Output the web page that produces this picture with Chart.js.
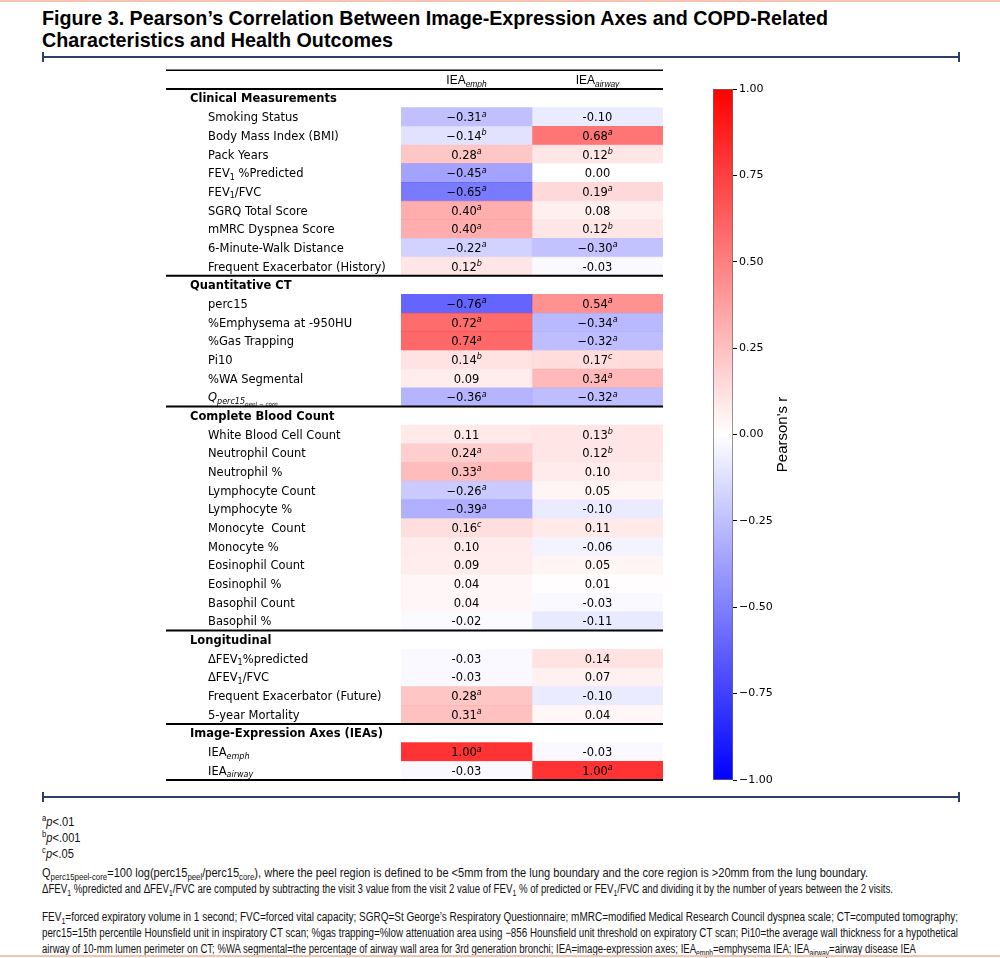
<!DOCTYPE html>
<html>
<head>
<meta charset="utf-8">
<title>Figure 3</title>
<script src="https://cdn.jsdelivr.net/npm/chart.js@4.4.0/dist/chart.umd.min.js"></script>
<style>
  body { margin: 0; background: #fff; }
  #page { position: relative; width: 1000px; height: 958px; overflow: hidden; font-family: 'Liberation Sans', Arial, sans-serif; color: #111; }
  .band { position: absolute; left: 0; width: 1000px; height: 2px; background: #f7c3ae; }
  .rule { position: absolute; left: 42px; width: 918px; height: 2px; background: #2b3f69; }
  .rule::before, .rule::after { content: ''; position: absolute; top: -4px; width: 2px; height: 10px; background: #2b3f69; }
  .rule::before { left: 0; }
  .rule::after { right: 0; }
  .fit { position: absolute; left: 42px; white-space: nowrap; transform-origin: 0 50%; line-height: 16px; }
  .ttl { font-weight: bold; font-size: 21px; line-height: 22px; color: #000; }
  .note { font-size: 12px; }
  .note sub, .note sup { font-size: 8.5px; line-height: 0; }
  .box { position: absolute; top: 60px; height: 730px; }
</style>
</head>
<body>
<div id="page">
  <div class="band" style="top:0"></div>
  <div class="fit ttl" style="top:7px" data-w="786">Figure 3. Pearson’s Correlation Between Image-Expression Axes and COPD-Related</div>
  <div class="fit ttl" style="top:29px" data-w="351">Characteristics and Health Outcomes</div>
  <div class="rule" style="top:56px"></div>

  <div class="box" style="left:0; width:700px"><canvas id="heat"></canvas></div>
  <div class="box" style="left:700px; width:300px"><canvas id="cbar"></canvas></div>

  <div class="rule" style="top:796px"></div>
  <div class="fit note short" style="top:814px"><sup>a</sup><i>p</i>&lt;.01</div>
  <div class="fit note short" style="top:830px"><sup>b</sup><i>p</i>&lt;.001</div>
  <div class="fit note short" style="top:846px"><sup>c</sup><i>p</i>&lt;.05</div>
  <div class="fit note" id="qline" style="top:865px" data-w="826">Q<sub>perc15peel-core</sub>=100 log(perc15<sub>peel</sub>/perc15<sub>core</sub>), where the peel region is defined to be &lt;5mm from the lung boundary and the core region is &gt;20mm from the lung boundary.</div>
  <div class="fit note" style="top:881px" data-w="851">ΔFEV<sub>1</sub> %predicted and ΔFEV<sub>1</sub>/FVC are computed by subtracting the visit 3 value from the visit 2 value of FEV<sub>1</sub> % of predicted or FEV<sub>1</sub>/FVC and dividing it by the number of years between the 2 visits.</div>
  <div class="fit note" style="top:909px" data-w="916">FEV<sub>1</sub>=forced expiratory volume in 1 second; FVC=forced vital capacity; SGRQ=St George’s Respiratory Questionnaire; mMRC=modified Medical Research Council dyspnea scale; CT=computed tomography;</div>
  <div class="fit note" style="top:925px" data-w="916">perc15=15th percentile Hounsfield unit in inspiratory CT scan; %gas trapping=%low attenuation area using −856 Hounsfield unit threshold on expiratory CT scan; Pi10=the average wall thickness for a hypothetical</div>
  <div class="fit note" style="top:941px" data-w="874">airway of 10-mm lumen perimeter on CT; %WA segmental=the percentage of airway wall area for 3rd generation bronchi; IEA=image-expression axes; IEA<sub>emph</sub>=emphysema IEA; IEA<sub>airway</sub>=airway disease IEA</div>
  <div class="band" style="top:955px"></div>
</div>

<script>
// --- DATA ---
const sections = ['Clinical Measurements', 'Quantitative CT', 'Complete Blood Count', 'Longitudinal', 'Image-Expression Axes (IEAs)'];
const sectionSizes = [9, 6, 11, 4, 2];

// _{..} subscript, ^{..} superscript, $..$ italic
const items = [
  'Smoking Status', 'Body Mass Index (BMI)', 'Pack Years', 'FEV_{1} %Predicted', 'FEV_{1}/FVC',
  'SGRQ Total Score', 'mMRC Dyspnea Score', '6-Minute-Walk Distance', 'Frequent Exacerbator (History)',
  'perc15', '%Emphysema at -950HU', '%Gas Trapping', 'Pi10', '%WA Segmental', '$Q$_{$perc15$_{$peel − core$}}',
  'White Blood Cell Count', 'Neutrophil Count', 'Neutrophil %', 'Lymphocyte Count', 'Lymphocyte %',
  'Monocyte  Count', 'Monocyte %', 'Eosinophil Count', 'Eosinophil %', 'Basophil Count', 'Basophil %',
  'ΔFEV_{1}%predicted', 'ΔFEV_{1}/FVC', 'Frequent Exacerbator (Future)', '5-year Mortality',
  'IEA_{$emph$}', 'IEA_{$airway$}'
];

const emph = [
  -0.31, -0.14, 0.28, -0.45, -0.65, 0.40, 0.40, -0.22, 0.12,
  -0.76, 0.72, 0.74, 0.14, 0.09, -0.36,
  0.11, 0.24, 0.33, -0.26, -0.39, 0.16, 0.10, 0.09, 0.04, 0.04, -0.02,
  -0.03, -0.03, 0.28, 0.31,
  1.00, -0.03
];
const emphSig = [
  'a', 'b', 'a', 'a', 'a', 'a', 'a', 'a', 'b',
  'a', 'a', 'a', 'b', '', 'a',
  '', 'a', 'a', 'a', 'a', 'c', '', '', '', '', '',
  '', '', 'a', 'a',
  'a', ''
];
const airway = [
  -0.10, 0.68, 0.12, 0.00, 0.19, 0.08, 0.12, -0.30, -0.03,
  0.54, -0.34, -0.32, 0.17, 0.34, -0.32,
  0.13, 0.12, 0.10, 0.05, -0.10, 0.11, -0.06, 0.05, 0.01, -0.03, -0.11,
  0.14, 0.07, -0.10, 0.04,
  -0.03, 1.00
];
const airwaySig = [
  '', 'a', 'b', '', 'a', '', 'b', 'a', '',
  'a', 'a', 'a', 'c', 'a', 'a',
  'b', 'b', '', '', '', '', '', '', '', '', '',
  '', '', '', '',
  '', 'a'
];
const colLabels = ['IEA_{$emph$}', 'IEA_{$airway$}'];
const cbarTicks = [-1, -0.75, -0.5, -0.25, 0, 0.25, 0.5, 0.75, 1];

// rows of the table: section headings + items
const rows = [];
let k = 0;
sections.forEach((s, si) => {
  rows.push({ label: s, header: true });
  for (let j = 0; j < sectionSizes[si]; j++) { rows.push({ label: items[k], i: k }); k++; }
});

const FONT = "'DejaVu Sans', sans-serif";

// matplotlib 'bwr'
function bwr(v, alpha) {
  const t = Math.max(-1, Math.min(1, v));
  let r, g, b;
  if (t >= 0) { r = 255; g = b = 255 * (1 - t); } else { b = 255; r = g = 255 * (1 + t); }
  return `rgba(${Math.round(r)},${Math.round(g)},${Math.round(b)},${alpha})`;
}

function cellText(v, sig) {
  if (!sig) return v.toFixed(2);
  return (v < 0 ? '−' : '') + Math.abs(v).toFixed(2) + '^{$' + sig + '$}';
}

function parseRich(str) {
  const segs = [], stack = [];
  let it = false, buf = '';
  const flush = () => { if (buf) segs.push({ t: buf, stack: stack.slice(), it }); buf = ''; };
  for (let p = 0; p < str.length; p++) {
    const c = str[p];
    if ((c === '_' || c === '^') && str[p + 1] === '{') { flush(); stack.push(c); p++; }
    else if (c === '}') { flush(); stack.pop(); }
    else if (c === '$') { flush(); it = !it; }
    else buf += c;
  }
  flush();
  return segs;
}

// y = middle of the line
function drawRich(ctx, str, x, y, size, opts) {
  const laid = parseRich(str).map(s => {
    let sz = size, dy = 0;
    s.stack.forEach(m => {
      if (m === '_') dy += sz * 0.22; else dy -= sz * 0.4;
      sz *= 0.7;
    });
    const font = `${s.it ? 'italic ' : ''}${opts.weight || 'normal'} ${sz}px ${opts.family || FONT}`;
    ctx.font = font;
    return { t: s.t, font, dy, w: ctx.measureText(s.t).width };
  });
  const total = laid.reduce((a, s) => a + s.w, 0);
  let cx = opts.align === 'center' ? x - total / 2 : x;
  ctx.textAlign = 'left';
  ctx.textBaseline = 'alphabetic';
  ctx.fillStyle = '#000';
  laid.forEach(s => { ctx.font = s.font; ctx.fillText(s.t, cx, y + size * 0.36 + s.dy); cx += s.w; });
}

// labels, numbers and rules of the table
const tablePlugin = {
  id: 'table',
  afterDatasetsDraw(chart) {
    const { ctx, chartArea: a, scales: { x, y } } = chart;
    const rowH = y.getPixelForValue(1) - y.getPixelForValue(0);
    const left = 166;
    ctx.save();

    rows.forEach((r, idx) => {
      const cy = y.getPixelForValue(idx);
      drawRich(ctx, r.label, r.header ? 190 : 208, cy, 11.5, { weight: r.header ? 'bold' : 'normal' });
      if (r.header) return;
      drawRich(ctx, cellText(emph[r.i], emphSig[r.i]), x.getPixelForValue(0.5), cy, 11.5, { align: 'center' });
      drawRich(ctx, cellText(airway[r.i], airwaySig[r.i]), x.getPixelForValue(1.5), cy, 11.5, { align: 'center' });
    });

    colLabels.forEach((l, c) => {
      drawRich(ctx, l, x.getPixelForValue(c + 0.5), a.top - rowH / 2, 12, { align: 'center', family: "'Liberation Sans', Arial, sans-serif" });
    });

    ctx.strokeStyle = '#000';
    const hline = (yy, w) => { ctx.lineWidth = w; ctx.beginPath(); ctx.moveTo(left, yy); ctx.lineTo(a.right, yy); ctx.stroke(); };
    hline(a.top - rowH, 1.5);
    hline(a.top, 2);
    rows.forEach((r, idx) => { if (r.header && idx > 0) hline(y.getPixelForValue(idx) - rowH / 2, 2); });
    hline(a.bottom, 2);
    ctx.restore();
  }
};

const colData = col => rows.map(r => r.header ? null : [col, col + 1]);
const colColors = vals => rows.map(r => r.header ? 'rgba(0,0,0,0)' : bwr(vals[r.i], 0.8));

new Chart(document.getElementById('heat'), {
  type: 'bar',
  data: {
    labels: rows.map(r => r.label),
    datasets: [
      { label: 'IEA emph', data: colData(0), backgroundColor: colColors(emph) },
      { label: 'IEA airway', data: colData(1), backgroundColor: colColors(airway) }
    ]
  },
  options: {
    indexAxis: 'y',
    responsive: true,
    maintainAspectRatio: false,
    animation: false,
    events: [],
    grouped: false,
    barPercentage: 1,
    categoryPercentage: 1,
    borderWidth: 0,
    layout: { padding: { left: 401, right: 37, top: 29, bottom: 10 } },
    plugins: { legend: { display: false }, tooltip: { enabled: false } },
    scales: {
      x: { type: 'linear', min: 0, max: 2, display: false },
      y: { display: false }
    }
  },
  plugins: [tablePlugin]
});

// colour bar
const cbarTitle = {
  id: 'cbarTitle',
  afterDraw(chart) {
    const { ctx, chartArea: a } = chart;
    ctx.save();
    ctx.translate(a.right + 50, (a.top + a.bottom) / 2);
    ctx.rotate(-Math.PI / 2);
    ctx.font = "15px 'Liberation Sans', Arial, sans-serif";
    ctx.fillStyle = '#000';
    ctx.textAlign = 'center';
    ctx.textBaseline = 'middle';
    ctx.fillText("Pearson's r", 0, 0);
    ctx.restore();
  }
};

new Chart(document.getElementById('cbar'), {
  type: 'bar',
  data: {
    labels: [''],
    datasets: [{
      data: [[-1, 1]],
      backgroundColor: c => {
        const { ctx, chartArea } = c.chart;
        if (!chartArea) return '#fff';
        const g = ctx.createLinearGradient(0, chartArea.bottom, 0, chartArea.top);
        g.addColorStop(0, 'rgb(0,0,255)');
        g.addColorStop(0.5, 'rgb(255,255,255)');
        g.addColorStop(1, 'rgb(255,0,0)');
        return g;
      },
      borderColor: '#666',
      borderWidth: 1,
      borderSkipped: false,
      barPercentage: 1,
      categoryPercentage: 1
    }]
  },
  options: {
    responsive: true,
    maintainAspectRatio: false,
    animation: false,
    events: [],
    layout: { padding: { left: 13, right: 227, top: 29, bottom: 10 } },
    plugins: { legend: { display: false }, tooltip: { enabled: false } },
    scales: {
      x: { display: false },
      y: {
        position: 'right',
        min: -1,
        max: 1,
        afterBuildTicks: s => { s.ticks = cbarTicks.map(v => ({ value: v })); },
        afterFit: s => { s.width = 40; },
        grid: { drawOnChartArea: false, tickLength: 4, color: '#000' },
        border: { display: false },
        ticks: {
          padding: 2,
          color: '#000',
          font: { family: 'DejaVu Sans', size: 11 },
          callback: v => v.toFixed(2).replace('-', '−')
        }
      }
    }
  },
  plugins: [cbarTitle]
});

// condensed text lines: squeeze to the widths of the original
let noteScale = 0.82;
document.querySelectorAll('.fit[data-w]').forEach(el => {
  const s = el.dataset.w / el.getBoundingClientRect().width;
  el.style.transform = `scaleX(${s})`;
  if (el.id === 'qline') noteScale = s;
});
document.querySelectorAll('.fit.short').forEach(el => { el.style.transform = `scaleX(${noteScale})`; });
</script>
</body>
</html>
